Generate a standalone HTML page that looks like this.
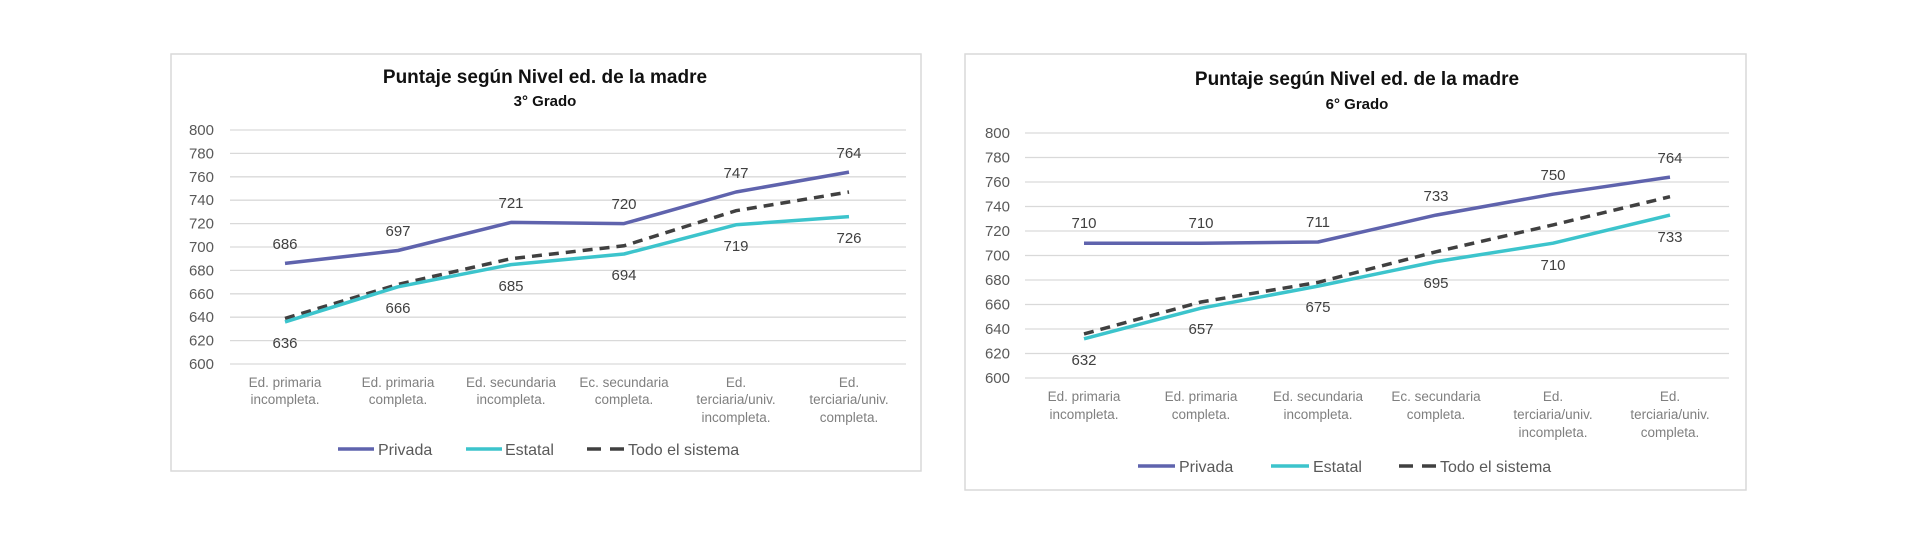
<!DOCTYPE html>
<html><head><meta charset="utf-8"><style>
html,body{margin:0;padding:0;background:#fff;width:1920px;height:538px;overflow:hidden}
svg{display:block;font-family:"Liberation Sans",sans-serif}
.t{font-size:19px;font-weight:bold;fill:#111;text-anchor:middle}
.s{font-size:15px;font-weight:bold;fill:#111;text-anchor:middle}
.y{font-size:15px;fill:#595959;text-anchor:end}
.c{font-size:13.5px;fill:#7f7f7f;text-anchor:middle}
.d{font-size:15px;fill:#404040;text-anchor:middle}
.l{font-size:16px;fill:#595959}
.g{stroke:#d9d9d9;stroke-width:1.3}
.p{fill:none;stroke:#5f63ad;stroke-width:3.5;stroke-linejoin:round}
.e{fill:none;stroke:#3cc4cc;stroke-width:3.5;stroke-linejoin:round}
.a{fill:none;stroke:#404040;stroke-width:3.5;stroke-dasharray:10 7}
</style></head><body>
<svg width="1920" height="538" viewBox="0 0 1920 538">
<!-- Chart 1 -->
<rect x="171" y="54" width="750" height="417" fill="#fff" stroke="#d9d9d9" stroke-width="1.5"/>
<text class="t" x="545" y="83">Puntaje según Nivel ed. de la madre</text>
<text class="s" x="545" y="106">3° Grado</text>
<g class="g">
<line x1="230" x2="906" y1="130" y2="130"/><line x1="230" x2="906" y1="153.4" y2="153.4"/><line x1="230" x2="906" y1="176.8" y2="176.8"/><line x1="230" x2="906" y1="200.2" y2="200.2"/><line x1="230" x2="906" y1="223.6" y2="223.6"/><line x1="230" x2="906" y1="247" y2="247"/><line x1="230" x2="906" y1="270.4" y2="270.4"/><line x1="230" x2="906" y1="293.8" y2="293.8"/><line x1="230" x2="906" y1="317.2" y2="317.2"/><line x1="230" x2="906" y1="340.6" y2="340.6"/><line x1="230" x2="906" y1="364" y2="364"/>
</g>
<g class="y">
<text x="214" y="135">800</text><text x="214" y="158.4">780</text><text x="214" y="181.8">760</text><text x="214" y="205.2">740</text><text x="214" y="228.6">720</text><text x="214" y="252">700</text><text x="214" y="275.4">680</text><text x="214" y="298.8">660</text><text x="214" y="322.2">640</text><text x="214" y="345.6">620</text><text x="214" y="369">600</text>
</g>
<polyline class="a" points="285,318.4 398,284.4 511,258.7 624,245.8 736,210.7 849,192"/>
<polyline class="e" points="285,321.9 398,286.8 511,264.6 624,254 736,224.8 849,216.6"/>
<polyline class="p" points="285,263.4 398,250.5 511,222.4 624,223.6 736,192 849,172.1"/>
<g class="d">
<text x="285" y="249">686</text><text x="398" y="236">697</text><text x="511" y="208">721</text><text x="624" y="209">720</text><text x="736" y="178">747</text><text x="849" y="158">764</text>
<text x="285" y="348">636</text><text x="398" y="313">666</text><text x="511" y="291">685</text><text x="624" y="280">694</text><text x="736" y="251">719</text><text x="849" y="243">726</text>
</g>
<g class="c">
<text x="285" y="387">Ed. primaria</text><text x="285" y="404">incompleta.</text>
<text x="398" y="387">Ed. primaria</text><text x="398" y="404">completa.</text>
<text x="511" y="387">Ed. secundaria</text><text x="511" y="404">incompleta.</text>
<text x="624" y="387">Ec. secundaria</text><text x="624" y="404">completa.</text>
<text x="736" y="387">Ed.</text><text x="736" y="404">terciaria/univ.</text><text x="736" y="422">incompleta.</text>
<text x="849" y="387">Ed.</text><text x="849" y="404">terciaria/univ.</text><text x="849" y="422">completa.</text>
</g>
<line x1="338" x2="374" y1="449" y2="449" stroke="#5f63ad" stroke-width="3.5"/>
<text class="l" x="378" y="455">Privada</text>
<line x1="466" x2="502" y1="449" y2="449" stroke="#3cc4cc" stroke-width="3.5"/>
<text class="l" x="505" y="455">Estatal</text>
<line x1="587" x2="625" y1="449" y2="449" stroke="#404040" stroke-width="3.5" stroke-dasharray="14 9"/>
<text class="l" x="628" y="455">Todo el sistema</text>

<!-- Chart 2 -->
<rect x="965" y="54" width="781" height="436" fill="#fff" stroke="#d9d9d9" stroke-width="1.5"/>
<text class="t" x="1357" y="85">Puntaje según Nivel ed. de la madre</text>
<text class="s" x="1357" y="109">6° Grado</text>
<g class="g">
<line x1="1025" x2="1729" y1="133" y2="133"/><line x1="1025" x2="1729" y1="157.5" y2="157.5"/><line x1="1025" x2="1729" y1="182" y2="182"/><line x1="1025" x2="1729" y1="206.5" y2="206.5"/><line x1="1025" x2="1729" y1="231" y2="231"/><line x1="1025" x2="1729" y1="255.5" y2="255.5"/><line x1="1025" x2="1729" y1="280" y2="280"/><line x1="1025" x2="1729" y1="304.5" y2="304.5"/><line x1="1025" x2="1729" y1="329" y2="329"/><line x1="1025" x2="1729" y1="353.5" y2="353.5"/><line x1="1025" x2="1729" y1="378" y2="378"/>
</g>
<g class="y">
<text x="1010" y="138">800</text><text x="1010" y="162.5">780</text><text x="1010" y="187">760</text><text x="1010" y="211.5">740</text><text x="1010" y="236">720</text><text x="1010" y="260.5">700</text><text x="1010" y="285">680</text><text x="1010" y="309.5">660</text><text x="1010" y="334">640</text><text x="1010" y="358.5">620</text><text x="1010" y="383">600</text>
</g>
<polyline class="a" points="1084,333.9 1201,302 1318,282.4 1436,251.8 1553,224.9 1670,196.7"/>
<polyline class="e" points="1084,338.8 1201,308.2 1318,286.1 1436,261.6 1553,243.2 1670,215.1"/>
<polyline class="p" points="1084,243.2 1201,243.2 1318,242 1436,215.1 1553,194.2 1670,177.1"/>
<g class="d">
<text x="1084" y="228">710</text><text x="1201" y="228">710</text><text x="1318" y="227">711</text><text x="1436" y="201">733</text><text x="1553" y="180">750</text><text x="1670" y="163">764</text>
<text x="1084" y="365">632</text><text x="1201" y="334">657</text><text x="1318" y="312">675</text><text x="1436" y="288">695</text><text x="1553" y="270">710</text><text x="1670" y="242">733</text>
</g>
<g class="c">
<text x="1084" y="401">Ed. primaria</text><text x="1084" y="419">incompleta.</text>
<text x="1201" y="401">Ed. primaria</text><text x="1201" y="419">completa.</text>
<text x="1318" y="401">Ed. secundaria</text><text x="1318" y="419">incompleta.</text>
<text x="1436" y="401">Ec. secundaria</text><text x="1436" y="419">completa.</text>
<text x="1553" y="401">Ed.</text><text x="1553" y="419">terciaria/univ.</text><text x="1553" y="437">incompleta.</text>
<text x="1670" y="401">Ed.</text><text x="1670" y="419">terciaria/univ.</text><text x="1670" y="437">completa.</text>
</g>
<line x1="1138" x2="1175" y1="466" y2="466" stroke="#5f63ad" stroke-width="3.5"/>
<text class="l" x="1179" y="472">Privada</text>
<line x1="1271" x2="1309" y1="466" y2="466" stroke="#3cc4cc" stroke-width="3.5"/>
<text class="l" x="1313" y="472">Estatal</text>
<line x1="1399" x2="1437" y1="466" y2="466" stroke="#404040" stroke-width="3.5" stroke-dasharray="14 9"/>
<text class="l" x="1440" y="472">Todo el sistema</text>
</svg>
</body></html>
